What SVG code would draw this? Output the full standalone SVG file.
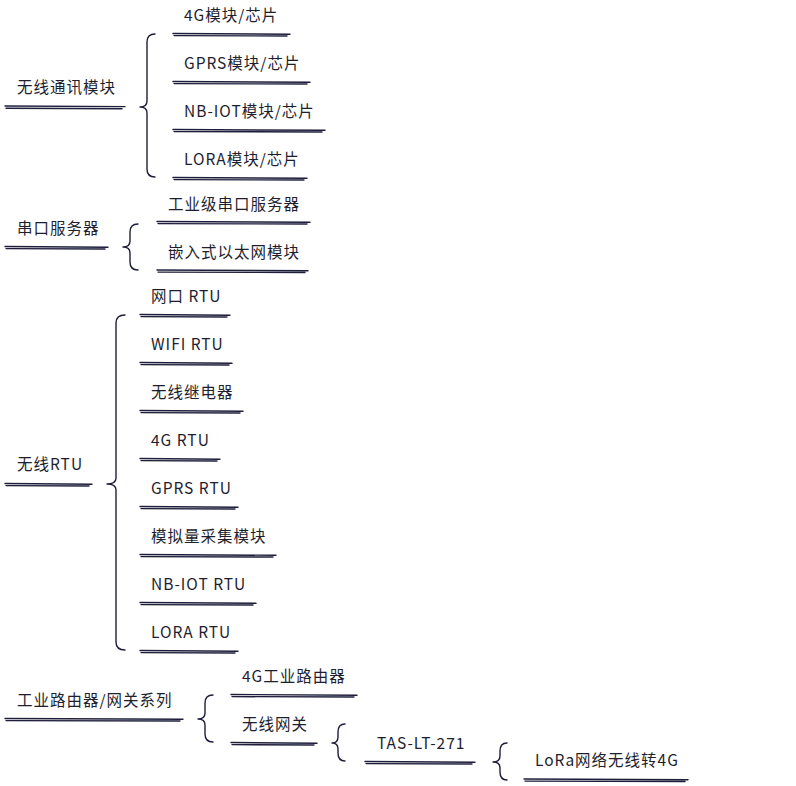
<svg xmlns="http://www.w3.org/2000/svg" width="796" height="786" viewBox="0 0 796 786">
<style>
text{font-family:"Noto Sans CJK SC","Liberation Sans",sans-serif;font-size:15.5px;fill:#1e1e2e;letter-spacing:1px}
.u{fill:none;stroke:#1e1e3c;stroke-width:1.4;stroke-linecap:round}
.b{fill:none;stroke:#1e1e3c;stroke-width:1.4;stroke-linecap:round;stroke-linejoin:round}
</style>
<rect width="796" height="786" fill="#fff"/>
<g id="connectors">
<path class="b" d="M155 34 Q147 34 147 42 L147 101 Q147 107 140 107 Q147 107 147 113 L147 169 Q147 177 155 177"/>
<path class="b" d="M138 224 Q130 224 130 232 L130 241 Q130 247 123 247 Q130 247 130 253 L130 262 Q130 270 138 270"/>
<path class="b" d="M125 315 Q116 315 116 323 L116 478 Q116 484 107 484 Q116 484 116 490 L116 642 Q116 650 125 650"/>
<path class="b" d="M213 695 Q205 695 205 703 L205 713 Q205 719 198 719 Q205 719 205 725 L205 734 Q205 742 213 742"/>
<path class="b" d="M345 724 Q338 724 338 732 L338 737 Q338 743 332 743 Q338 743 338 749 L338 753 Q338 761 345 761"/>
<path class="b" d="M507 743 Q500 743 500 751 L500 756 Q500 762 493 762 Q500 762 500 768 L500 772 Q500 780 507 780"/>
</g>
<g id="n-wireless-module">
<text x="17" y="93">无线通讯模块</text>
<path class="u" d="M5 106 L125 106.6 M6 108.2 L122 108.8"/>
</g>
<g id="n-4g-module">
<text x="184" y="21">4G模块/芯片</text>
<path class="u" d="M173 33.5 L290 34.3 M174 35.6 L287 36"/>
</g>
<g id="n-gprs-module">
<text x="184" y="69">GPRS模块/芯片</text>
<path class="u" d="M173 81.5 L310 82.3 M174 83.6 L307 84"/>
</g>
<g id="n-nbiot-module">
<text x="184" y="117">NB-IOT模块/芯片</text>
<path class="u" d="M173 129.5 L325 130.3 M174 131.6 L322 132"/>
</g>
<g id="n-lora-module">
<text x="184" y="165">LORA模块/芯片</text>
<path class="u" d="M173 177.5 L307 178.3 M174 179.6 L304 180"/>
</g>
<g id="n-serial-server">
<text x="17" y="234">串口服务器</text>
<path class="u" d="M5 246.5 L108 247.3 M6 248.6 L105 249"/>
</g>
<g id="n-industrial-serial">
<text x="168" y="210">工业级串口服务器</text>
<path class="u" d="M157 221.5 L310 222.3 M158 223.6 L307 224"/>
</g>
<g id="n-embedded-eth">
<text x="168" y="258">嵌入式以太网模块</text>
<path class="u" d="M157 270 L308 270.8 M158 272.1 L305 272.5"/>
</g>
<g id="n-wireless-rtu">
<text x="17" y="470">无线RTU</text>
<path class="u" d="M5 483.5 L92 484.3 M6 485.6 L89 486"/>
</g>
<g id="n-eth-rtu">
<text x="151" y="302">网口 RTU</text>
<path class="u" d="M140 314.5 L230 315.3 M141 316.6 L227 317"/>
</g>
<g id="n-wifi-rtu">
<text x="151" y="350">WIFI RTU</text>
<path class="u" d="M140 362.5 L232 363.3 M141 364.6 L229 365"/>
</g>
<g id="n-relay">
<text x="151" y="398">无线继电器</text>
<path class="u" d="M140 410.5 L243 411.3 M141 412.6 L240 413"/>
</g>
<g id="n-4g-rtu">
<text x="151" y="446">4G RTU</text>
<path class="u" d="M140 458.5 L220 459.3 M141 460.6 L217 461"/>
</g>
<g id="n-gprs-rtu">
<text x="151" y="494">GPRS RTU</text>
<path class="u" d="M140 506.5 L238 507.3 M141 508.6 L235 509"/>
</g>
<g id="n-analog">
<text x="151" y="542">模拟量采集模块</text>
<path class="u" d="M140 554.5 L276 555.3 M141 556.6 L273 557"/>
</g>
<g id="n-nbiot-rtu">
<text x="151" y="590">NB-IOT RTU</text>
<path class="u" d="M140 602.5 L256 603.3 M141 604.6 L253 605"/>
</g>
<g id="n-lora-rtu">
<text x="151" y="638">LORA RTU</text>
<path class="u" d="M140 650.5 L238 651.3 M141 652.6 L235 653"/>
</g>
<g id="n-router">
<text x="17" y="706">工业路由器/网关系列</text>
<path class="u" d="M5 718.5 L183 719.3 M6 720.6 L180 721"/>
</g>
<g id="n-4g-router">
<text x="242" y="682">4G工业路由器</text>
<path class="u" d="M231 694.5 L357 695.3 M232 696.6 L354 697"/>
</g>
<g id="n-gateway">
<text x="242" y="730">无线网关</text>
<path class="u" d="M231 742.5 L317 743.3 M232 744.6 L314 745"/>
</g>
<g id="n-tas">
<text x="377" y="749">TAS-LT-271</text>
<path class="u" d="M365 761.5 L475 762.3 M366 763.6 L472 764"/>
</g>
<g id="n-lora-4g">
<text x="535" y="766">LoRa网络无线转4G</text>
<path class="u" d="M524 779 L688 779.8 M525 781.1 L685 781.5"/>
</g>
</svg>
